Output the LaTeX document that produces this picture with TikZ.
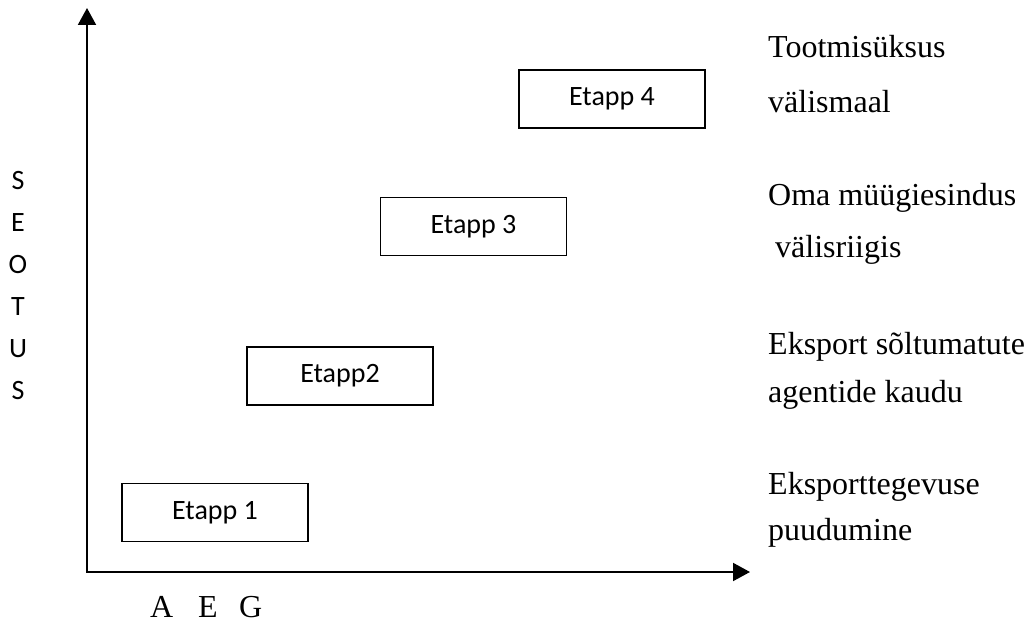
\documentclass[tikz,border=0pt]{standalone}
\usepackage{fontspec}
\setmainfont{Liberation Serif}
\newfontfamily\carlitofont{Carlito}
\usetikzlibrary{arrows.meta}
\begin{document}
\begin{tikzpicture}[x=1pt,y=-1pt,
  stagebox/.style={draw, line width=1.8pt, minimum width=186pt, minimum height=58pt,
    inner sep=0pt, font=\carlitofont\fontsize{28}{28}\selectfont},
  axisline/.style={line width=2pt, {Triangle[length=17pt,width=18pt]}-{Triangle[length=17pt,width=18pt]}},
  sidetext/.style={anchor=base west, inner sep=0pt, font=\fontsize{32}{32}\selectfont},
  vletter/.style={inner sep=0pt, font=\carlitofont\fontsize{28}{28}\selectfont}]
\useasboundingbox (0,0) rectangle (1031,628);
% axes
\coordinate (ytop) at (87,8);
\coordinate (o) at (87,572);
\coordinate (xend) at (750,572);
\draw[axisline] (ytop) -- (o) -- (xend);
% stage boxes
\node[stagebox] (e1) at (215,512.5) {Etapp 1};
\node[stagebox] (e2) at (340,376) {Etapp2};
\node[stagebox] (e3) at (473.5,226.5) {Etapp 3};
\node[stagebox] (e4) at (612,99) {Etapp 4};
% right texts
\node[sidetext] (t1) at (768,58) {Tootmisüksus};
\node[sidetext] (t2) at (768,113) {välismaal};
\node[sidetext] (t3) at (768,206) {Oma müügiesindus};
\node[sidetext] (t4) at (775,258) {välisriigis};
\node[sidetext] (t5) at (768,355) {Eksport sõltumatute};
\node[sidetext] (t6) at (768,402) {agentide kaudu};
\node[sidetext] (t7) at (768,494) {Eksporttegevuse};
\node[sidetext] (t8) at (768,540) {puudumine};
% vertical axis label
\node[vletter] (s1) at (18,181) {S};
\node[vletter] (s2) at (18,223) {E};
\node[vletter] (s3) at (18,265) {O};
\node[vletter] (s4) at (18,307) {T};
\node[vletter] (s5) at (18,349) {U};
\node[vletter] (s6) at (18,391) {S};
% horizontal axis label
\node[sidetext] (la) at (150,617) {A};
\node[sidetext] (le) at (198,617) {E};
\node[sidetext] (lg) at (239,617) {G};
\end{tikzpicture}
\end{document}
